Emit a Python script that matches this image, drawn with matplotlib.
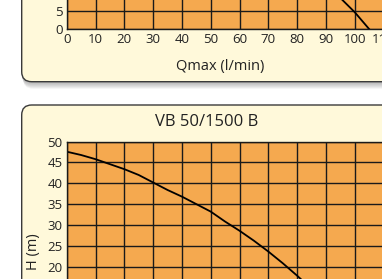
import matplotlib
matplotlib.use('Agg')
import matplotlib.pyplot as plt
from matplotlib.patches import FancyBboxPatch

plt.rcParams['font.family'] = ['Open Sans', 'DejaVu Sans']

# data
q_ticks = [0, 10, 20, 30, 40, 50, 60, 70, 80, 90, 100, 110, 120]
h_ticks_top = [0, 5, 10, 15, 20, 25, 30, 35, 40]
h_ticks = [0, 5, 10, 15, 20, 25, 30, 35, 40, 45, 50]

# previous pump (only the tail is visible)
q_prev = [0, 20, 40, 60, 80, 90, 95, 100, 105]
h_prev = [38, 35, 30, 24, 15.5, 11.0, 8.5, 4.6, 0]

# VB 50/1500 B
q_vb = [0, 5, 10, 15, 20, 25, 30, 35, 40, 45, 50, 55, 60, 65, 70, 75, 80, 85, 90, 95, 100]
h_vb = [47.6, 46.8, 45.8, 44.6, 43.4, 42.0, 40.2, 38.4, 36.8, 35.0, 33.2,
        30.8, 28.6, 26.2, 23.6, 20.8, 17.8, 14.6, 11.0, 7.0, 3.0]

W, H = 382, 279
orange = '#F5A94F'
cream = '#FFF9DA'

fig = plt.figure(figsize=(W / 100, H / 100), dpi=100)
fig.patch.set_facecolor('white')

# background layer in pixel units for the rounded boxes
bg = fig.add_axes([0, 0, 1, 1])
bg.set_xlim(0, W)
bg.set_ylim(H, 0)
bg.axis('off')

# shadow under the top box
for i in range(8):
    sh = FancyBboxPatch((21 + i * 0.3, -200 + i), 420, 281.7,
                        boxstyle='round,pad=0,rounding_size=10',
                        facecolor='#555555', edgecolor='none', alpha=0.07)
    bg.add_patch(sh)

box1 = FancyBboxPatch((21.7, -200), 420, 281.7,
                      boxstyle='round,pad=0,rounding_size=10',
                      facecolor=cream, edgecolor='#3a3a3a', linewidth=1)
bg.add_patch(box1)
box2 = FancyBboxPatch((21.7, 105), 420, 400,
                      boxstyle='round,pad=0,rounding_size=10',
                      facecolor=cream, edgecolor='#3a3a3a', linewidth=1)
bg.add_patch(box2)


def px(x, y):
    return x / W, 1 - y / H


def style(ax, yticks):
    ax.set_facecolor(orange)
    ax.set_xlim(0, 120)
    ax.set_xticks(q_ticks)
    ax.set_yticks(yticks)
    ax.grid(True, color='#1a1a1a', linewidth=1)
    ax.set_axisbelow(True)
    ax.tick_params(length=0, labelsize=9.5, pad=3, colors='#222222')
    for s in ax.spines.values():
        s.set_color('#1a1a1a')
        s.set_linewidth(1)


# top chart (mostly above the crop)
ax1 = fig.add_axes([66.7 / W, 1 - 29 / H, 345.6 / W, 146.4 / H])
style(ax1, h_ticks_top)
ax1.set_ylim(0, 40)
ax1.plot(q_prev, h_prev, color='black', linewidth=1.3)

# VB 50/1500 B chart
ax2 = fig.add_axes([66.7 / W, 1 - 349.7 / H, 345.6 / W, 208 / H])
style(ax2, h_ticks)
ax2.set_ylim(0, 50)
ax2.plot(q_vb, h_vb, color='black', linewidth=1.3)

fig.text(*px(220, 67), 'Qmax (l/min)', ha='center', va='center', fontsize=10.5, color='#222222')
fig.text(*px(207, 122), 'VB 50/1500 B', ha='center', va='center', fontsize=12, color='#222222')
fig.text(*px(34, 252), 'H (m)', ha='center', va='center', rotation=90, fontsize=10.5, color='#222222')

fig.savefig('out.png', dpi=100)
